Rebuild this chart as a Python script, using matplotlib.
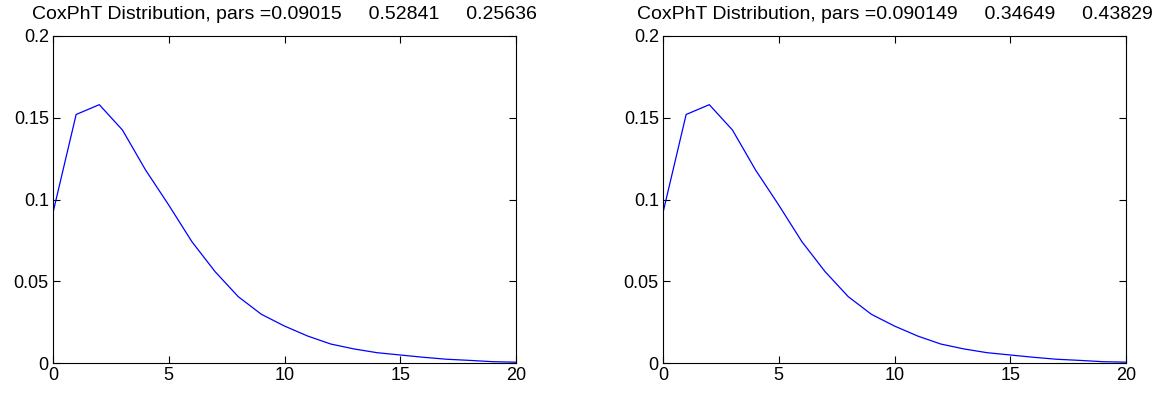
import matplotlib
matplotlib.use("Agg")
import matplotlib.pyplot as plt

plt.rcParams['font.family'] = ['Liberation Sans', 'DejaVu Sans']

# x positions and density values (both panels look the same)
x = list(range(21))
y_left = [0.092, 0.152, 0.158, 0.1425, 0.118, 0.0966, 0.0742, 0.0559, 0.0406, 0.0298,
          0.0226, 0.0165, 0.0116, 0.0086, 0.0063, 0.0049, 0.0035, 0.0023, 0.0016, 0.0008, 0.0005]
y_right = [0.092, 0.152, 0.158, 0.1425, 0.118, 0.0966, 0.0742, 0.0559, 0.0406, 0.0298,
           0.0226, 0.0165, 0.0116, 0.0086, 0.0063, 0.0049, 0.0035, 0.0023, 0.0016, 0.0008, 0.0005]
titles = ['CoxPhT Distribution, pars =0.09015     0.52841     0.25636',
          'CoxPhT Distribution, pars =0.090149     0.34649     0.43829']
xticks = [0, 5, 10, 15, 20]
yticks = [0, 0.05, 0.1, 0.15, 0.2]
ytick_labels = ['0', '0.05', '0.1', '0.15', '0.2']

W, H = 1158, 394
fig = plt.figure(figsize=(W / 100, H / 100), dpi=100)

for left_px, ys, title in [(53, y_left, titles[0]), (663, y_right, titles[1])]:
    ax = fig.add_axes([left_px / W, (H - 363) / H, 463 / W, 327 / H])
    ax.plot(x, ys, color='#0000ff', linewidth=0.9)
    ax.set_xlim(0, 20)
    ax.set_ylim(0, 0.2)
    ax.set_xticks(xticks)
    ax.set_yticks(yticks)
    ax.set_yticklabels(ytick_labels)
    ax.tick_params(direction='in', top=True, right=True, length=5, width=0.8,
                   labelsize=13, pad=3)
    for s in ax.spines.values():
        s.set_linewidth(0.8)
    ax.set_title(title, fontsize=14, pad=12)

fig.savefig('out.png', dpi=100)
